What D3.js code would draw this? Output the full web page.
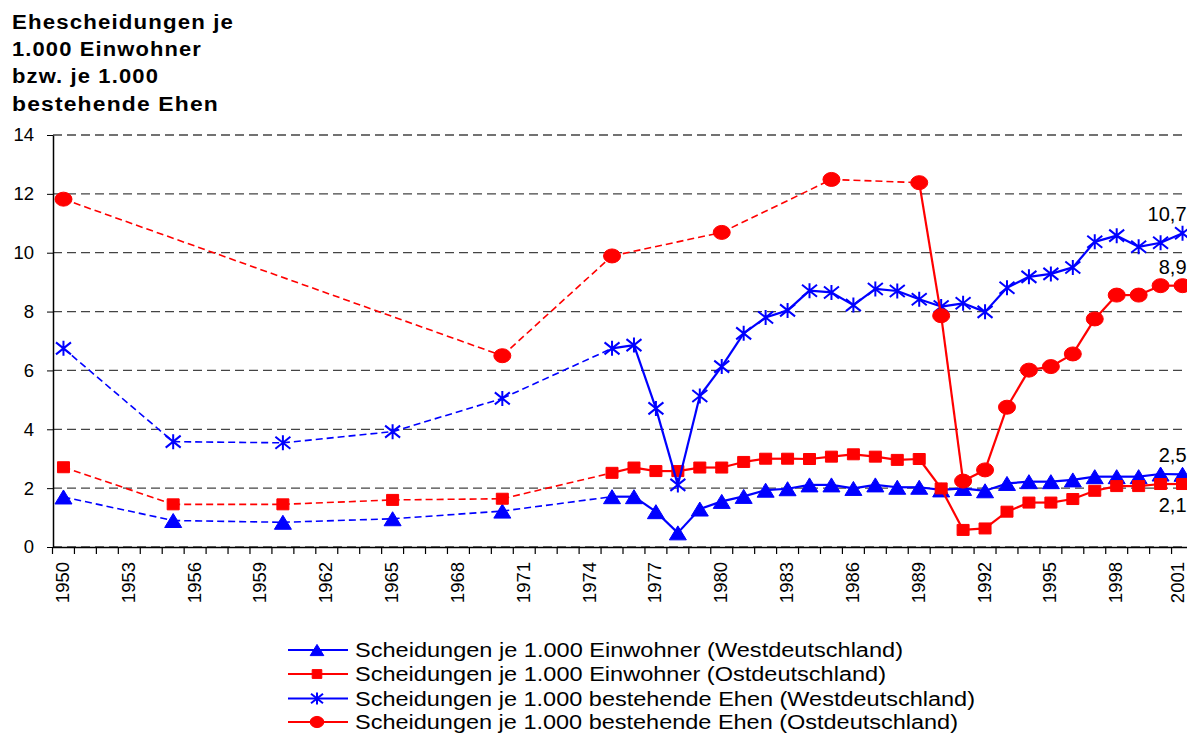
<!DOCTYPE html>
<html>
<head>
<meta charset="utf-8">
<script src="https://cdn.jsdelivr.net/npm/d3@7"></script>
<style>
  html, body { margin: 0; padding: 0; background: #fff; overflow: hidden; }
  svg { display: block; font-family: "Liberation Sans", Arial, sans-serif; }
</style>
</head>
<body>
<svg id="chart" width="1187" height="734"></svg>
<script>
// categories on the x axis (one band per year)
const categories = [1950, 1951, 1952, 1953, 1954, 1955, 1956, 1957, 1958, 1959,
  1960, 1961, 1962, 1963, 1964, 1965, 1966, 1967, 1968, 1969,
  1970, 1971, 1972, 1973, 1974, 1975, 1976, 1977, 1978, 1979,
  1980, 1981, 1982, 1983, 1984, 1985, 1986, 1987, 1988, 1989,
  1990, 1991, 1992, 1993, 1994, 1995, 1996, 1997, 1998, 1999,
  2000, 2001];
const tickYears = [1950, 1953, 1956, 1959, 1962, 1965, 1968, 1971, 1974, 1977,
  1980, 1983, 1986, 1989, 1992, 1995, 1998, 2001];
const yTicks = [0, 2, 4, 6, 8, 10, 12, 14];

// years with data
const yearsMain = [1950, 1955, 1960, 1965, 1970, 1975, 1976, 1977, 1978, 1979,
  1980, 1981, 1982, 1983, 1984, 1985, 1986, 1987, 1988, 1989,
  1990, 1991, 1992, 1993, 1994, 1995, 1996, 1997, 1998, 1999, 2000, 2001];
const yearsEastEhen = [1950, 1970, 1975, 1980, 1985, 1989, 1990, 1991, 1992, 1993,
  1994, 1995, 1996, 1997, 1998, 1999, 2000, 2001];

// Scheidungen je 1.000 Einwohner
const westEinw = [1.7, 0.9, 0.84, 0.96, 1.22, 1.71, 1.71, 1.2, 0.48, 1.29,
  1.55, 1.72, 1.93, 1.98, 2.11, 2.11, 1.99, 2.11, 2.03, 2.03,
  1.94, 1.99, 1.91, 2.16, 2.22, 2.22, 2.28, 2.39, 2.39, 2.39, 2.48, 2.47];
const eastEinw = [2.71, 1.45, 1.45, 1.6, 1.64, 2.52, 2.7, 2.58, 2.58, 2.7,
  2.7, 2.89, 3.0, 3.0, 2.99, 3.07, 3.15, 3.07, 2.96, 2.99,
  1.99, 0.58, 0.63, 1.2, 1.51, 1.51, 1.63, 1.91, 2.07, 2.07, 2.14, 2.14];
// Scheidungen je 1.000 bestehende Ehen
const westEhen = [6.75, 3.58, 3.54, 3.92, 5.05, 6.75, 6.86, 4.71, 2.11, 5.13,
  6.13, 7.26, 7.8, 8.04, 8.71, 8.65, 8.22, 8.77, 8.7, 8.42,
  8.17, 8.28, 7.99, 8.81, 9.18, 9.28, 9.5, 10.37, 10.58, 10.2, 10.34, 10.66];
const eastEhen = [11.82, 6.5, 9.89, 10.69, 12.49, 12.38, 7.86, 2.24, 2.62, 4.75,
  6.01, 6.13, 6.56, 7.75, 8.56, 8.56, 8.88, 8.88];

const seriesNames = [
  "Scheidungen je 1.000 Einwohner (Westdeutschland)",
  "Scheidungen je 1.000 Einwohner (Ostdeutschland)",
  "Scheidungen je 1.000 bestehende Ehen (Westdeutschland)",
  "Scheidungen je 1.000 bestehende Ehen (Ostdeutschland)"
];
const endLabels = ["2,5", "2,1", "10,7", "8,9"];
const titleLines = ["Ehescheidungen je", "1.000 Einwohner", "bzw. je 1.000", "bestehende Ehen"];

const BLUE = "#0000ff", RED = "#ff0000";

const series = [
  { name: seriesNames[0], years: yearsMain, values: westEinw, color: BLUE, marker: "triangle", label: endLabels[0], below: false },
  { name: seriesNames[1], years: yearsMain, values: eastEinw, color: RED, marker: "square", label: endLabels[1], below: true },
  { name: seriesNames[2], years: yearsMain, values: westEhen, color: BLUE, marker: "star", label: endLabels[2], below: false },
  { name: seriesNames[3], years: yearsEastEhen, values: eastEhen, color: RED, marker: "circle", label: endLabels[3], below: false }
];

const width = 1187;
const svg = d3.select("#chart");

const x = d3.scaleBand()
  .domain(categories)
  .range([52.5, 1193.5])
  .padding(0);
const cx = yr => x(yr) + x.bandwidth() / 2;

const y = d3.scaleLinear()
  .domain([0, 14])
  .range([547, 135]);

// title (wide bold, like the old export)
const titleWidths = [222, 190, 147, 207];
svg.append("g")
  .selectAll("text")
  .data(titleLines)
  .enter()
  .append("text")
  .attr("x", 12)
  .attr("y", (d, i) => 28.5 + i * 27.4)
  .attr("textLength", (d, i) => titleWidths[i])
  .attr("lengthAdjust", "spacingAndGlyphs")
  .style("font-weight", "bold")
  .style("letter-spacing", "1px")
  .style("font-size", "19.5px")
  .text(d => d);

// gridlines
svg.append("g")
  .selectAll("line")
  .data(yTicks)
  .enter()
  .append("line")
  .attr("x1", 53)
  .attr("x2", 1193)
  .attr("y1", d => y(d))
  .attr("y2", d => y(d))
  .attr("stroke", "#444")
  .attr("stroke-width", 1.3)
  .attr("stroke-dasharray", "9,5");

// y axis
const yAxis = svg.append("g")
  .attr("transform", "translate(53,0)")
  .call(d3.axisLeft(y).tickValues(yTicks).tickSize(6).tickSizeOuter(0).tickPadding(13));
yAxis.select(".domain").attr("stroke", "#000").attr("stroke-width", 1.5);
yAxis.selectAll(".tick line").attr("stroke", "#000");
yAxis.selectAll("text")
  .style("font-size", "18.5px")
  .style("font-family", "'Liberation Sans', Arial, sans-serif")
  .attr("fill", "#000");

// x axis: tick marks at band boundaries
const boundaries = categories.map(c => x(c)).concat([x(categories[categories.length - 1]) + x.bandwidth()]);
svg.append("g")
  .selectAll("line")
  .data(boundaries)
  .enter()
  .append("line")
  .attr("x1", d => d)
  .attr("x2", d => d)
  .attr("y1", 547)
  .attr("y2", 554)
  .attr("stroke", "#000")
  .attr("stroke-width", 1.2);

const xAxis = svg.append("g")
  .attr("transform", "translate(0,547)")
  .call(d3.axisBottom(x).tickValues(tickYears).tickSize(0).tickSizeOuter(0));
xAxis.select(".domain").attr("stroke", "#000").attr("stroke-width", 1.5);
xAxis.selectAll("text")
  .attr("transform", "rotate(-90)")
  .attr("x", -15)
  .attr("y", 0)
  // keep the last rotated label inside the picture
  .attr("dy", d => Math.min(5.5, width - 3 - cx(d)))
  .style("text-anchor", "end")
  .style("font-size", "18.5px")
  .style("font-family", "'Liberation Sans', Arial, sans-serif")
  .attr("fill", "#000");

// markers
function markerPath(type, s) {
  if (type === "triangle") {
    return `M0,${-7 * s}L${8.5 * s},${7 * s}L${-8.5 * s},${7 * s}Z`;
  }
  if (type === "square") {
    return `M${-6 * s},${-5.5 * s}h${12 * s}v${11 * s}h${-12 * s}Z`;
  }
  if (type === "star") {
    return `M0,${-7.5 * s}V${7.5 * s}M${-7.5 * s},${-6 * s}L${7.5 * s},${6 * s}M${-7.5 * s},${6 * s}L${7.5 * s},${-6 * s}`;
  }
  // circle (slightly wider than tall, as in the reference)
  const rx = 8.5 * s, ry = 7 * s;
  return `M${-rx},0A${rx},${ry} 0 1,0 ${rx},0A${rx},${ry} 0 1,0 ${-rx},0Z`;
}

function drawMarker(sel, type, color, s) {
  sel.append("path")
    .attr("d", markerPath(type, s))
    .attr("fill", type === "star" ? "none" : color)
    .attr("stroke", color)
    .attr("stroke-width", type === "star" ? 2 : 1);
}

const line = d3.line().x(d => cx(d.year)).y(d => y(d.value));

series.forEach(s => {
  const pts = s.years.map((yr, i) => ({ year: yr, value: s.values[i] }));
  const g = svg.append("g");

  // segments: dashed where years are missing in between
  const segs = d3.pairs(pts);
  g.selectAll("path.seg")
    .data(segs)
    .enter()
    .append("path")
    .attr("class", "seg")
    .attr("d", d => line(d))
    .attr("fill", "none")
    .attr("stroke", s.color)
    .attr("stroke-width", d => (d[1].year - d[0].year > 1 ? 1.6 : 2.2))
    .attr("stroke-dasharray", d => (d[1].year - d[0].year > 1 ? "7,4" : null));

  g.selectAll("g.pt")
    .data(pts)
    .enter()
    .append("g")
    .attr("class", "pt")
    .attr("transform", d => `translate(${cx(d.year)},${y(d.value)})`)
    .each(function () { drawMarker(d3.select(this), s.marker, s.color, 1); });

  const last = pts[pts.length - 1];
  g.append("text")
    .attr("x", cx(last.year) + 4)
    .attr("y", y(last.value) + (s.below ? 28 : -12))
    .style("text-anchor", "end")
    .style("font-size", "20px")
    .attr("fill", "#000")
    .text(s.label);
});

// legend
const legendY = [650, 674, 698.5, 722];
const legendWidths = [548, 531, 620, 603];
const legend = svg.append("g")
  .selectAll("g")
  .data(series)
  .enter()
  .append("g")
  .attr("transform", (d, i) => `translate(0,${legendY[i]})`);

legend.append("line")
  .attr("x1", 288)
  .attr("x2", 348)
  .attr("y1", 0)
  .attr("y2", 0)
  .attr("stroke", d => d.color)
  .attr("stroke-width", 2);

legend.append("g")
  .attr("transform", "translate(317,0)")
  .each(function (d) { drawMarker(d3.select(this), d.marker, d.color, 0.8); });

legend.append("text")
  .attr("x", 355)
  .attr("y", 0)
  .attr("dy", "0.36em")
  .attr("textLength", (d, i) => legendWidths[i])
  .attr("lengthAdjust", "spacingAndGlyphs")
  .style("font-size", "19.5px")
  .attr("fill", "#000")
  .text(d => d.name);
</script>
</body>
</html>
